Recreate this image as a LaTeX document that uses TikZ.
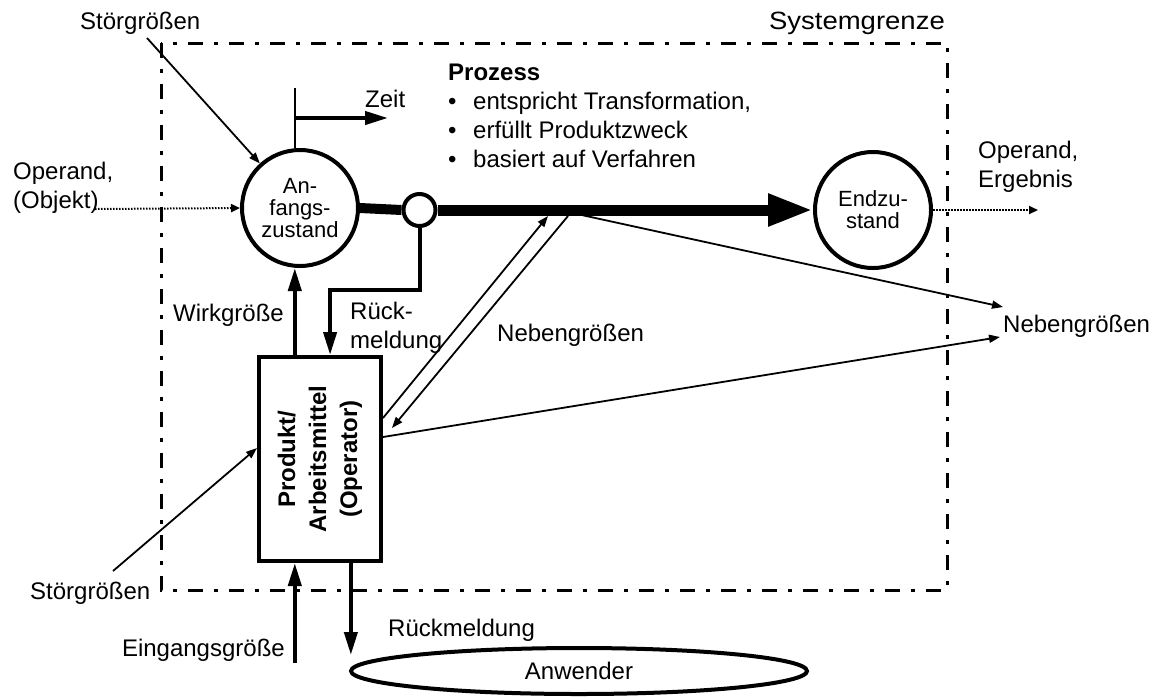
\documentclass[tikz,border=0pt]{standalone}
\usepackage{fontspec}
\setmainfont{Liberation Sans}
\usetikzlibrary{arrows.meta,shapes.geometric,calc}
\begin{document}
\begin{tikzpicture}[x=1pt,y=-1pt,
  txt/.style={font=\fontsize{24}{29}\selectfont, inner sep=0pt},
  ctxt/.style={font=\fontsize{22}{22}\selectfont, align=center},
  state/.style={circle, draw, line width=4pt, minimum size=116pt, inner sep=0pt, fill=white},
  arr/.style={line width=1.8pt, -{Triangle[length=11pt,width=8pt]}},
  fatarr/.style={line width=4pt, -{Triangle[length=23pt,width=13pt]}},
  dots/.style={line width=2pt, dash pattern=on 1.5pt off 1.5pt, -{Triangle[length=9pt,width=8pt]}},
  bound/.style={line width=3pt, dash pattern=on 15pt off 11pt on 4pt off 11pt}]
\useasboundingbox (0,0) rectangle (1155,697);
% system boundary
\draw[bound] (161,43) rectangle (947,590);
% nodes
\node[state, ctxt] (anf) at (300,208) {An-\\fangs-\\zustand};
\node[circle, draw, line width=4pt, minimum size=32pt, inner sep=0pt, fill=white] (kl) at (419.5,210) {};
\node[state, ctxt] (end) at (873,210) {Endzu-\\stand};
\node[draw, line width=4pt, minimum width=122pt, minimum height=204pt, inner sep=0pt, fill=white] (box) at (320,459) {};
\node[rotate=90, font=\bfseries\fontsize{24}{31}\selectfont, align=center, inner sep=0pt] (boxtxt) at (box.center) {Produkt/\\Arbeitsmittel\\(Operator)};
\node[ellipse, draw, line width=4pt, minimum width=456pt, minimum height=46pt, inner sep=0pt, txt] (anw) at (579,671) {Anwender};
% texts
\node[txt, anchor=base west] (stoer1) at (80,29) {Störgrößen};
\node[txt, anchor=base west] (stoer2) at (30,599) {Störgrößen};
\node[txt, anchor=north west, align=left] (opin) at (13,162) {Operand,\\(Objekt)};
\node[txt, anchor=north west, align=left] (opout) at (978,141) {Operand,\\Ergebnis};
\node[anchor=base east, inner sep=0pt] (sysg) at (945,29) {\scalebox{1.1}[1]{\fontsize{25}{30}\selectfont Systemgrenze}};
\node[txt, anchor=base west] (zeit) at (365,107) {Zeit};
\node[txt, font=\bfseries\fontsize{24}{29}\selectfont, anchor=base west] (proz) at (448,80) {Prozess};
\node[txt, anchor=base west] (b1) at (448,109) {\makebox[25pt][l]{\textbullet}entspricht Transformation,};
\node[txt, anchor=base west] (b2) at (448,138) {\makebox[25pt][l]{\textbullet}erfüllt Produktzweck};
\node[txt, anchor=base west] (b3) at (448,167) {\makebox[25pt][l]{\textbullet}basiert auf Verfahren};
\node[txt, anchor=base east] (wirk) at (284,321) {Wirkgröße};
\node[txt, anchor=north west, align=left] (rm1) at (350,302) {Rück-\\meldung};
\node[txt, anchor=base west] (neb1) at (497,341) {Nebengrößen};
\node[txt, anchor=base west] (neb2) at (1003,332) {Nebengrößen};
\node[txt, anchor=base east] (eing) at (285,656) {Eingangsgröße};
\node[txt, anchor=base west] (rm2) at (388,636) {Rückmeldung};
% free ends
\coordinate (s1) at (147,38);
\coordinate (s2) at (113,571);
\coordinate (o1) at (95,209);
\coordinate (zt) at (295,88);
\coordinate (za) at (295,118);
\coordinate (zb) at (388,118);
\coordinate (nA1) at (548,216);
\coordinate (nB0) at (568,216);
\coordinate (nC0) at (577,214);
\coordinate (w0) at ($(box.north west)!0.3!(box.north east)$);
\coordinate (fb) at ($(box.north west)!0.58!(box.north east)$);
\coordinate (e1) at ($(box.south west)!0.3!(box.south east)$);
\coordinate (r1) at ($(box.south west)!0.745!(box.south east)$);
% connectors
\draw[arr] (s1) -- (anf);
\draw[dots] (o1) -- (anf.west);
\draw[line width=1.5pt] (zt) -- (zt |- anf.north);
\draw[fatarr] (za) -- (zb);
\draw[line width=10pt] (anf.east) -- (kl.west);
\draw[line width=11pt, -{Triangle[length=45pt,width=30pt]}] (kl.east) -- (end.west);
\draw[fatarr] (kl.south) |- ($(fb)+(0,-65)$) -- (fb);
\draw[fatarr] (w0) -- (w0 |- anf.south);
\draw[arr] ($(box.north east)+(0,63)$) -- (nA1);
\draw[arr] (nB0) -- ($(box.north east)+(9,73)$);
\draw[arr] (nC0) -- ($(neb2.base west)+(0,-25)$);
\draw[arr] ($(box.north east)+(0,82)$) -- ($(neb2.base west)+(-3,5)$);
\draw[arr] (s2) -- ($(box.north west)+(0,93)$);
\draw[fatarr] ($(e1)+(0,100)$) -- (e1);
\draw[fatarr] (r1) -- ($(r1)+(0,92)$);
\draw[dots] (end.east) -- ($(end.east)+(105,0)$);
\end{tikzpicture}
\end{document}
